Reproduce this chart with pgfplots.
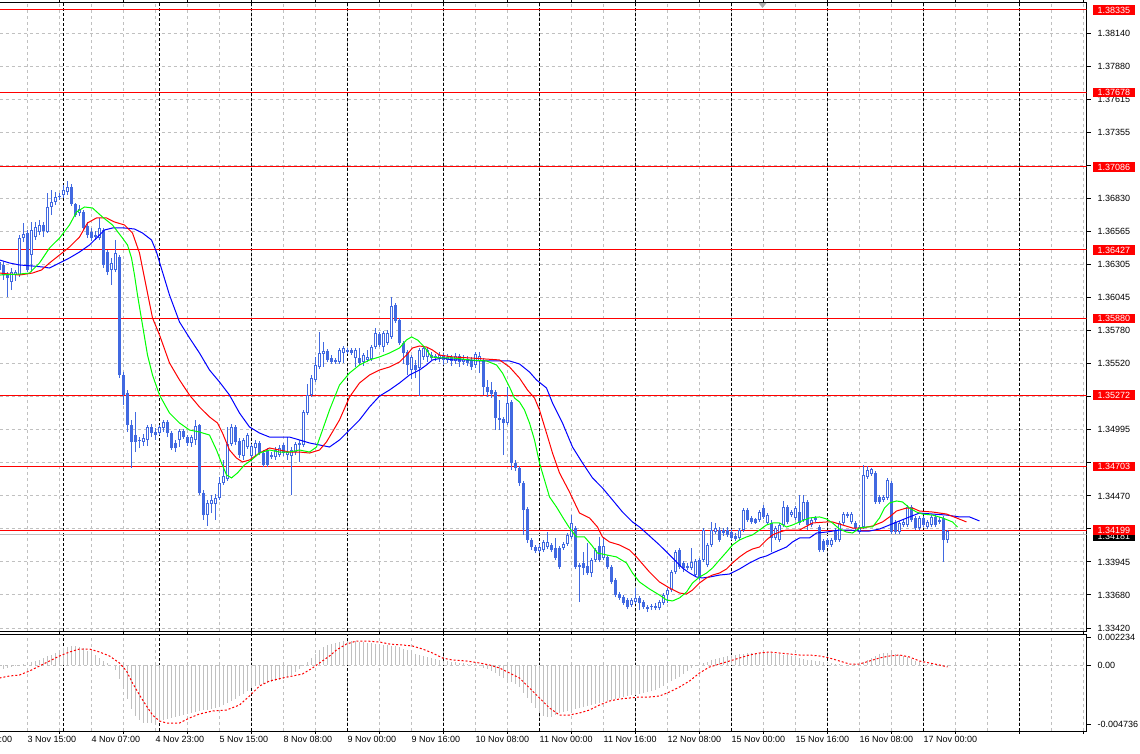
\documentclass[border=0pt]{standalone}
\usepackage{pgfplots}
\pgfplotsset{compat=1.18}
\usepackage{pgfplotstable}
\usepackage{fontspec}
\setmainfont{Liberation Sans}
\definecolor{candle}{RGB}{65,105,225}
\definecolor{silver}{RGB}{192,192,192}

\pgfplotstableread{
x o h l c
0 1.36266 1.36346 1.36242 1.36330
4 1.36306 1.36330 1.36187 1.36226
8 1.36226 1.36250 1.36051 1.36202
12 1.36171 1.36282 1.36107 1.36250
16 1.36226 1.36266 1.36179 1.36250
20 1.36226 1.36544 1.36210 1.36520
24 1.36520 1.36640 1.36489 1.36552
28 1.36560 1.36584 1.36250 1.36266
32 1.36385 1.36648 1.36250 1.36584
36 1.36528 1.36648 1.36505 1.36608
40 1.36568 1.36664 1.36544 1.36624
44 1.36624 1.36648 1.36528 1.36576
48 1.36568 1.36878 1.36560 1.36767
52 1.36767 1.36902 1.36703 1.36807
56 1.36807 1.36886 1.36783 1.36846
60 1.36846 1.36878 1.36823 1.36854
64 1.36862 1.36942 1.36838 1.36902
68 1.36886 1.36974 1.36862 1.36926
72 1.36926 1.36950 1.36775 1.36791
76 1.36791 1.36799 1.36687 1.36703
80 1.36719 1.36783 1.36695 1.36751
84 1.36727 1.36743 1.36584 1.36600
88 1.36616 1.36648 1.36520 1.36544
92 1.36568 1.36600 1.36497 1.36520
96 1.36544 1.36576 1.36505 1.36528
100 1.36520 1.36680 1.36505 1.36600
104 1.36584 1.36600 1.36282 1.36306
108 1.36409 1.36425 1.36226 1.36250
112 1.36266 1.36362 1.36147 1.36322
116 1.36266 1.36505 1.36250 1.36401
120 1.36370 1.36385 1.35407 1.35431
124 1.35431 1.35455 1.35193 1.35272
128 1.35288 1.35312 1.34978 1.35034
132 1.35034 1.35074 1.34692 1.34899
136 1.34954 1.35137 1.34819 1.34899
140 1.34915 1.34938 1.34851 1.34907
144 1.34899 1.34962 1.34867 1.34931
148 1.34915 1.35034 1.34867 1.35018
152 1.35018 1.35042 1.34938 1.34970
156 1.34978 1.35010 1.34915 1.34954
160 1.34970 1.35034 1.34954 1.35018
164 1.35010 1.35074 1.34978 1.35058
168 1.35058 1.35074 1.34938 1.34970
172 1.34970 1.34986 1.34835 1.34851
176 1.34891 1.34915 1.34819 1.34851
180 1.34915 1.35002 1.34859 1.34986
184 1.34986 1.35002 1.34923 1.34938
188 1.34938 1.34954 1.34867 1.34891
192 1.34891 1.34954 1.34859 1.34938
196 1.34915 1.35074 1.34875 1.35026
200 1.35034 1.35042 1.34477 1.34493
204 1.34493 1.34517 1.34279 1.34318
208 1.34318 1.34438 1.34231 1.34414
212 1.34406 1.34477 1.34334 1.34438
216 1.34406 1.34485 1.34279 1.34454
220 1.34454 1.34621 1.34438 1.34573
224 1.34573 1.34756 1.34557 1.34629
228 1.34605 1.35018 1.34589 1.34883
232 1.34883 1.35042 1.34867 1.35018
236 1.35018 1.35034 1.34875 1.34899
240 1.34907 1.34931 1.34771 1.34795
244 1.34787 1.34931 1.34756 1.34915
248 1.34859 1.34970 1.34843 1.34954
252 1.34787 1.34883 1.34771 1.34867
256 1.34851 1.34915 1.34779 1.34891
260 1.34891 1.34907 1.34795 1.34811
264 1.34811 1.34835 1.34700 1.34716
268 1.34835 1.34851 1.34700 1.34716
272 1.34795 1.34819 1.34763 1.34779
276 1.34779 1.34859 1.34756 1.34835
280 1.34795 1.34875 1.34779 1.34851
284 1.34875 1.34891 1.34787 1.34811
288 1.34795 1.34938 1.34756 1.34819
292 1.34787 1.34859 1.34477 1.34835
296 1.34819 1.34899 1.34795 1.34883
300 1.34875 1.34915 1.34740 1.34891
304 1.34875 1.35153 1.34859 1.35137
308 1.35129 1.35360 1.35113 1.35272
312 1.35272 1.35431 1.35256 1.35407
316 1.35392 1.35575 1.35376 1.35511
320 1.35495 1.35773 1.35479 1.35606
324 1.35598 1.35694 1.35495 1.35622
328 1.35622 1.35638 1.35535 1.35551
332 1.35567 1.35590 1.35519 1.35535
336 1.35551 1.35567 1.35519 1.35535
340 1.35535 1.35646 1.35519 1.35630
344 1.35606 1.35662 1.35527 1.35646
348 1.35630 1.35646 1.35598 1.35614
352 1.35630 1.35646 1.35590 1.35606
356 1.35567 1.35646 1.35495 1.35630
360 1.35567 1.35646 1.35511 1.35527
364 1.35535 1.35606 1.35503 1.35590
368 1.35551 1.35630 1.35535 1.35575
372 1.35559 1.35670 1.35543 1.35654
376 1.35654 1.35805 1.35638 1.35765
380 1.35757 1.35773 1.35654 1.35670
384 1.35654 1.35781 1.35614 1.35765
388 1.35686 1.35789 1.35670 1.35765
392 1.35734 1.36051 1.35718 1.35980
396 1.35988 1.36004 1.35845 1.35861
400 1.35869 1.35885 1.35670 1.35686
404 1.35686 1.35702 1.35519 1.35606
408 1.35614 1.35630 1.35431 1.35511
412 1.35471 1.35590 1.35400 1.35575
416 1.35511 1.35551 1.35407 1.35471
420 1.35487 1.35646 1.35264 1.35630
424 1.35575 1.35662 1.35551 1.35646
428 1.35575 1.35646 1.35535 1.35630
432 1.35590 1.35614 1.35551 1.35567
436 1.35582 1.35598 1.35543 1.35567
440 1.35567 1.35614 1.35535 1.35590
444 1.35590 1.35606 1.35511 1.35551
448 1.35551 1.35598 1.35527 1.35575
452 1.35575 1.35590 1.35503 1.35543
456 1.35543 1.35606 1.35519 1.35582
460 1.35582 1.35598 1.35495 1.35535
464 1.35535 1.35590 1.35511 1.35559
468 1.35559 1.35582 1.35503 1.35527
472 1.35551 1.35575 1.35471 1.35495
476 1.35511 1.35614 1.35487 1.35598
480 1.35543 1.35614 1.35447 1.35582
484 1.35551 1.35567 1.35272 1.35336
488 1.35336 1.35392 1.35256 1.35296
492 1.35312 1.35376 1.35248 1.35280
496 1.35296 1.35312 1.34994 1.35090
500 1.35090 1.35233 1.34994 1.35074
504 1.35082 1.35098 1.34795 1.35050
508 1.35050 1.35336 1.35034 1.35209
512 1.35217 1.35233 1.34676 1.34732
516 1.34732 1.34756 1.34668 1.34692
520 1.34692 1.34708 1.34549 1.34573
524 1.34573 1.34589 1.34159 1.34358
528 1.34366 1.34382 1.34096 1.34120
532 1.34120 1.34136 1.34040 1.34064
536 1.34064 1.34080 1.34016 1.34032
540 1.34032 1.34088 1.34016 1.34064
544 1.34040 1.34120 1.34024 1.34104
548 1.34064 1.34183 1.34048 1.34104
552 1.34080 1.34096 1.34024 1.34040
556 1.34056 1.34136 1.33961 1.33977
560 1.34056 1.34072 1.33889 1.33905
564 1.34056 1.34104 1.34040 1.34088
568 1.34088 1.34175 1.34072 1.34160
572 1.34143 1.34318 1.34128 1.34255
576 1.34215 1.34231 1.33889 1.33905
580 1.33921 1.33937 1.33627 1.33905
584 1.33937 1.34024 1.33841 1.33897
588 1.33913 1.34096 1.33841 1.33857
592 1.33857 1.33977 1.33825 1.33961
596 1.33961 1.34056 1.33945 1.34040
600 1.34072 1.34144 1.33945 1.33961
604 1.33977 1.34144 1.33961 1.34072
608 1.33985 1.34001 1.33889 1.33905
612 1.33905 1.33921 1.33770 1.33786
616 1.33802 1.33818 1.33666 1.33682
620 1.33690 1.33706 1.33643 1.33659
624 1.33666 1.33682 1.33603 1.33619
628 1.33643 1.33659 1.33571 1.33587
632 1.33603 1.33659 1.33587 1.33643
636 1.33627 1.33738 1.33611 1.33659
640 1.33659 1.33674 1.33563 1.33619
644 1.33627 1.33643 1.33571 1.33587
648 1.33587 1.33603 1.33547 1.33571
652 1.33587 1.33611 1.33563 1.33595
656 1.33595 1.33619 1.33563 1.33579
660 1.33579 1.33643 1.33563 1.33627
664 1.33619 1.33698 1.33603 1.33682
668 1.33682 1.33738 1.33619 1.33722
672 1.33722 1.33881 1.33706 1.33865
676 1.33865 1.34040 1.33849 1.34024
680 1.34040 1.34056 1.33889 1.33905
684 1.33937 1.33953 1.33865 1.33897
688 1.33913 1.33937 1.33881 1.33897
692 1.33897 1.34056 1.33881 1.33945
696 1.33841 1.33969 1.33825 1.33953
700 1.33961 1.33977 1.33802 1.33818
704 1.33961 1.34215 1.33945 1.34199
708 1.33921 1.34096 1.33905 1.34080
712 1.34080 1.34263 1.34064 1.34199
716 1.34183 1.34255 1.34167 1.34215
720 1.34199 1.34223 1.34104 1.34120
724 1.34199 1.34215 1.34152 1.34175
728 1.34199 1.34223 1.34144 1.34160
732 1.34183 1.34207 1.34120 1.34136
736 1.34152 1.34175 1.34112 1.34128
740 1.34136 1.34215 1.34120 1.34199
744 1.34199 1.34374 1.34183 1.34358
748 1.34358 1.34374 1.34263 1.34279
752 1.34295 1.34311 1.34247 1.34263
756 1.34287 1.34295 1.34247 1.34255
760 1.34279 1.34358 1.34263 1.34342
764 1.34374 1.34398 1.34287 1.34303
768 1.34255 1.34334 1.34239 1.34318
772 1.34255 1.34279 1.34024 1.34136
776 1.34136 1.34231 1.34120 1.34215
780 1.34120 1.34255 1.34104 1.34239
784 1.34239 1.34430 1.34223 1.34382
788 1.34382 1.34398 1.34247 1.34263
792 1.34318 1.34358 1.34303 1.34342
796 1.34295 1.34390 1.34279 1.34374
800 1.34342 1.34477 1.34239 1.34255
804 1.34279 1.34477 1.34263 1.34422
808 1.34422 1.34438 1.34199 1.34239
812 1.34239 1.34295 1.34223 1.34279
816 1.34295 1.34311 1.34263 1.34279
820 1.34223 1.34239 1.34024 1.34040
824 1.34112 1.34128 1.34024 1.34040
828 1.34120 1.34136 1.34064 1.34080
832 1.34080 1.34136 1.34064 1.34120
836 1.34199 1.34215 1.34104 1.34120
840 1.34120 1.34271 1.34104 1.34255
844 1.34255 1.34342 1.34239 1.34326
848 1.34326 1.34342 1.34295 1.34311
852 1.34263 1.34342 1.34247 1.34326
856 1.34255 1.34271 1.34199 1.34215
860 1.34183 1.34239 1.34167 1.34223
864 1.34223 1.34716 1.34207 1.34637
868 1.34621 1.34708 1.34605 1.34676
872 1.34645 1.34692 1.34629 1.34684
876 1.34653 1.34669 1.34406 1.34422
880 1.34462 1.34477 1.34406 1.34422
884 1.34438 1.34477 1.34422 1.34462
888 1.34454 1.34613 1.34438 1.34597
892 1.34573 1.34589 1.34167 1.34183
896 1.34263 1.34279 1.34167 1.34183
900 1.34183 1.34271 1.34167 1.34255
904 1.34239 1.34279 1.34223 1.34263
908 1.34239 1.34398 1.34223 1.34382
912 1.34382 1.34398 1.34263 1.34279
916 1.34295 1.34311 1.34199 1.34215
920 1.34215 1.34311 1.34199 1.34295
924 1.34295 1.34311 1.34223 1.34239
928 1.34223 1.34279 1.34207 1.34263
932 1.34239 1.34318 1.34223 1.34303
936 1.34303 1.34318 1.34223 1.34239
940 1.34279 1.34303 1.34247 1.34263
944 1.34295 1.34311 1.33945 1.34120
948 1.34120 1.34199 1.34096 1.34191
}\candles

\pgfplotstableread{
x v
0 -0.00024
4 -0.00032
8 -0.00024
12 -0.00016
16 -0.00008
20 0
24 0.00008
28 0.00016
32 0.00024
36 0.00032
40 0.0004
44 0.00056
48 0.00072
52 0.0008
56 0.00096
60 0.0012
64 0.00136
68 0.00144
72 0.00152
76 0.00152
80 0.00144
84 0.00136
88 0.00112
92 0.00096
96 0.0008
100 0.00056
104 0.00032
108 0.00016
112 0
116 -0.0004
120 -0.00112
124 -0.00192
128 -0.00272
132 -0.00352
136 -0.00408
140 -0.0044
144 -0.00464
148 -0.00464
152 -0.00464
156 -0.00456
160 -0.00448
164 -0.0044
168 -0.00432
172 -0.00424
176 -0.00416
180 -0.00408
184 -0.004
188 -0.00392
192 -0.00384
196 -0.00376
200 -0.00368
204 -0.0036
208 -0.0036
212 -0.00352
216 -0.00344
220 -0.00336
224 -0.0032
228 -0.00304
232 -0.00288
236 -0.00272
240 -0.00248
244 -0.00232
248 -0.00208
252 -0.00184
256 -0.00168
260 -0.0016
264 -0.00152
268 -0.00144
272 -0.00136
276 -0.00128
280 -0.0012
284 -0.00112
288 -0.00096
292 -0.0008
296 -0.00056
300 -0.00032
304 -0.00008
308 0.00024
312 0.00056
316 0.00088
320 0.0012
324 0.00144
328 0.0016
332 0.00168
336 0.00176
340 0.00184
344 0.00192
348 0.00192
352 0.00192
356 0.00192
360 0.00184
364 0.00184
368 0.00176
372 0.00176
376 0.00168
380 0.00168
384 0.0016
388 0.0016
392 0.00152
396 0.00152
400 0.00144
404 0.00128
408 0.0012
412 0.00104
416 0.00088
420 0.0008
424 0.00072
428 0.00064
432 0.00056
436 0.00048
440 0.0004
444 0.00032
448 0.00032
452 0.00024
456 0.00024
460 0.00016
464 0.00016
468 0.00008
472 0.00008
476 0
480 -0.00008
484 -0.00024
488 -0.00032
492 -0.00048
496 -0.00064
500 -0.00088
504 -0.00104
508 -0.0012
512 -0.00136
516 -0.00152
520 -0.00176
524 -0.00224
528 -0.00264
532 -0.00304
536 -0.00344
540 -0.00384
544 -0.00408
548 -0.00416
552 -0.00416
556 -0.004
560 -0.00384
564 -0.00376
568 -0.00368
572 -0.0036
576 -0.00352
580 -0.00344
584 -0.00336
588 -0.00328
592 -0.0032
596 -0.00312
600 -0.00304
604 -0.00296
608 -0.00288
612 -0.0028
616 -0.00272
620 -0.00264
624 -0.00256
628 -0.00248
632 -0.0024
636 -0.0024
640 -0.00232
644 -0.00224
648 -0.00216
652 -0.00208
656 -0.002
660 -0.00184
664 -0.00168
668 -0.00144
672 -0.00128
676 -0.00112
680 -0.00096
684 -0.00072
688 -0.00048
692 -0.00024
696 -0.00008
700 0.00008
704 0.00016
708 0.00024
712 0.0004
716 0.00048
720 0.00056
724 0.00064
728 0.00072
732 0.0008
736 0.0008
740 0.00088
744 0.00088
748 0.00096
752 0.00096
756 0.00096
760 0.00096
764 0.00096
768 0.00096
772 0.00096
776 0.00088
780 0.00088
784 0.0008
788 0.0008
792 0.00072
796 0.00064
800 0.00056
804 0.00048
808 0.0004
812 0.0004
816 0.00032
820 0.00032
824 0.00024
828 0.00016
832 0.00016
836 0.00008
840 0.00008
844 0
848 0
852 0
856 0.00008
860 0.00008
864 0.00024
868 0.0004
872 0.00056
876 0.00072
880 0.00088
884 0.00096
888 0.00096
892 0.00096
896 0.00088
900 0.0008
904 0.00072
908 0.00064
912 0.00048
916 0.00032
920 0.00024
924 0.00016
928 0.00008
932 0.00008
936 0
940 -0.00008
944 -0.00008
948 -0.00016
}\macdhist

\pgfplotsset{
  mtcommon/.style={
    scale only axis, width=1087pt, xmin=0, xmax=1087,
    clip mode=individual,
    scaled y ticks=false, scaled x ticks=false,
    axis line style={black, line width=1pt},
    grid=both,
    major grid style={silver, line width=1pt, dash pattern=on 3pt off 3pt},
    minor grid style={silver, line width=1pt, dash pattern=on 3pt off 3pt},
    xtick={28,92,...,1052},
    minor xtick={60,124,...,1084},
    xmajorticks=false, xminorticks=false,
    xticklabels={},
    extra x ticks={64,160,252,348,444,540,636,732,828,924,1020},
    extra x tick labels={},
    extra x tick style={grid=major, xmajorticks=false,
      major grid style={black, line width=1pt, dash pattern=on 3pt off 2pt}},
    ytick pos=right, yticklabel pos=right,
    tick align=outside, major tick length=4pt,
    tick style={black, line width=1pt},
    tick label style={font=\fontsize{9}{10}\selectfont, text=black},
    yticklabel style={anchor=west, inner sep=0pt, xshift=7pt},
  },
}
\tikzset{
  lbl/.style={anchor=west, xshift=6pt, fill=red, text=white,
    font=\fontsize{9}{10}\selectfont, inner xsep=5pt, inner ysep=1.5pt,
    text height=6.5pt, text depth=0pt},
  xl/.style={anchor=north west, inner sep=0pt, yshift=-5pt,
    font=\fontsize{9}{10}\selectfont, text=black},
}

\begin{document}
\begin{tikzpicture}
\begin{axis}[mtcommon, name=main, at={(0pt,0pt)}, anchor=north west,
  height=628pt, ymin=1.3339615, ymax=1.3838875,
  ytick={1.3342,1.336825,1.33945,1.342075,1.3447,1.347325,1.34995,1.352575,1.3552,1.357825,1.36045,1.363075,1.3657,1.368325,1.37095,1.373575,1.3762,1.378825,1.38145},
  yticklabels={1.33420,1.33680,1.33945,{},1.34470,{},1.34995,{},1.35520,1.35780,1.36045,1.36305,1.36565,1.36830,{},1.37355,1.37615,1.37880,1.38140},
]
% price levels
\addplot[red, line width=1pt] coordinates {(0,1.38335) (1087,1.38335)};
\addplot[red, line width=1pt] coordinates {(0,1.37678) (1087,1.37678)};
\addplot[red, line width=1pt] coordinates {(0,1.37086) (1087,1.37086)};
\addplot[red, line width=1pt] coordinates {(0,1.36427) (1087,1.36427)};
\addplot[red, line width=1pt] coordinates {(0,1.35880) (1087,1.35880)};
\addplot[red, line width=1pt] coordinates {(0,1.35272) (1087,1.35272)};
\addplot[red, line width=1pt] coordinates {(0,1.34703) (1087,1.34703)};
\addplot[silver, line width=1pt] coordinates {(0,1.34163) (1087,1.34163)};
\addplot[red, line width=1pt] coordinates {(0,1.34199) (1087,1.34199)};
% candles: wicks
\addplot[draw=none, error bars/.cd, y dir=plus, y explicit, error mark=none,
  error bar style={draw=candle, line width=1pt, solid}]
  table[x=x, y=l, y error plus expr={\thisrow{h}-\thisrow{l}}] {\candles};
% bodies
\addplot[draw=none, error bars/.cd, y dir=plus, y explicit, error mark=none,
  error bar style={draw=candle, line width=3pt, solid}]
  table[x=x, y expr={min(\thisrow{o},\thisrow{c})}, y error plus expr={abs(\thisrow{c}-\thisrow{o})}] {\candles};
% hollow interiors of rising candles
\addplot[draw=none, error bars/.cd, y dir=plus, y explicit, error mark=none,
  error bar style={draw=white, line width=1pt, solid}]
  table[x=x, y expr={\thisrow{o}+0.00008}, y error plus expr={max(\thisrow{c}-\thisrow{o}-0.00016,0)}] {\candles};
% moving averages
\addplot[blue, line width=1pt] coordinates {(0,1.36346)(10,1.36322)(20,1.36306)(33,1.36298)(43,1.36290)(50,1.36282)(60,1.36322)(70,1.36362)(80,1.36409)(90,1.36465)(97,1.36520)(105,1.36584)(113,1.36600)(125,1.36600)(135,1.36592)(143,1.36560)(152,1.36505)(157,1.36409)(163,1.36250)(170,1.36067)(180,1.35853)(190,1.35726)(200,1.35606)(210,1.35471)(220,1.35376)(230,1.35272)(240,1.35129)(250,1.35018)(260,1.34970)(270,1.34938)(280,1.34938)(290,1.34938)(300,1.34915)(310,1.34891)(320,1.34875)(330,1.34859)(340,1.34915)(350,1.34994)(360,1.35074)(370,1.35177)(380,1.35264)(390,1.35312)(400,1.35368)(410,1.35431)(420,1.35471)(427,1.35511)(433,1.35551)(443,1.35567)(453,1.35551)(467,1.35551)(480,1.35543)(510,1.35543)(520,1.35519)(530,1.35455)(537,1.35392)(547,1.35328)(553,1.35209)(563,1.35050)(573,1.34859)(583,1.34732)(593,1.34613)(603,1.34533)(613,1.34438)(623,1.34342)(633,1.34263)(640,1.34223)(650,1.34152)(660,1.34080)(670,1.34001)(677,1.33945)(683,1.33897)(690,1.33857)(697,1.33825)(703,1.33818)(710,1.33825)(720,1.33841)(730,1.33849)(740,1.33889)(750,1.33937)(760,1.33977)(767,1.33993)(773,1.34016)(780,1.34040)(787,1.34064)(793,1.34104)(800,1.34136)(810,1.34136)(817,1.34175)(827,1.34183)(840,1.34199)(850,1.34199)(860,1.34191)(870,1.34191)(880,1.34207)(890,1.34239)(900,1.34271)(910,1.34303)(920,1.34334)(933,1.34326)(947,1.34318)(960,1.34303)(970,1.34303)(980,1.34271)};
\addplot[red, line width=1pt] coordinates {(0,1.36242)(20,1.36226)(33,1.36242)(42,1.36266)(50,1.36322)(60,1.36385)(70,1.36449)(80,1.36528)(88,1.36640)(97,1.36680)(107,1.36680)(115,1.36648)(125,1.36624)(133,1.36560)(140,1.36401)(147,1.36123)(153,1.35885)(160,1.35750)(170,1.35527)(180,1.35392)(190,1.35272)(200,1.35177)(210,1.35098)(218,1.35050)(223,1.34970)(230,1.34835)(237,1.34771)(243,1.34740)(250,1.34756)(260,1.34811)(270,1.34851)(280,1.34835)(290,1.34819)(300,1.34819)(310,1.34811)(320,1.34835)(327,1.34899)(340,1.35074)(350,1.35256)(360,1.35368)(370,1.35431)(380,1.35471)(390,1.35495)(400,1.35535)(407,1.35590)(413,1.35646)(420,1.35662)(427,1.35654)(433,1.35630)(440,1.35590)(453,1.35575)(470,1.35567)(500,1.35551)(510,1.35495)(520,1.35407)(528,1.35312)(535,1.35248)(540,1.35153)(547,1.34970)(553,1.34811)(560,1.34653)(570,1.34501)(580,1.34334)(590,1.34295)(598,1.34223)(603,1.34144)(610,1.34104)(620,1.34080)(630,1.34040)(637,1.33985)(643,1.33929)(650,1.33865)(660,1.33786)(670,1.33738)(680,1.33698)(687,1.33690)(693,1.33722)(700,1.33778)(707,1.33818)(713,1.33841)(720,1.33857)(727,1.33889)(733,1.33937)(740,1.33985)(747,1.34024)(753,1.34048)(760,1.34064)(767,1.34120)(773,1.34160)(780,1.34183)(787,1.34199)(793,1.34199)(800,1.34199)(813,1.34255)(827,1.34263)(833,1.34263)(843,1.34239)(853,1.34215)(863,1.34215)(873,1.34231)(883,1.34263)(890,1.34303)(897,1.34350)(907,1.34374)(913,1.34374)(920,1.34350)(933,1.34342)(947,1.34326)(957,1.34295)(967,1.34263)};
\addplot[green, line width=1pt] coordinates {(0,1.36226)(20,1.36234)(30,1.36242)(40,1.36322)(50,1.36441)(60,1.36520)(70,1.36624)(77,1.36727)(85,1.36767)(93,1.36759)(103,1.36687)(113,1.36624)(123,1.36520)(128,1.36465)(132,1.36362)(135,1.36226)(138,1.36067)(143,1.35829)(148,1.35590)(153,1.35431)(160,1.35272)(170,1.35129)(180,1.35050)(190,1.34994)(200,1.34978)(210,1.34954)(217,1.34835)(222,1.34732)(227,1.34637)(232,1.34613)(238,1.34653)(245,1.34716)(252,1.34756)(260,1.34811)(270,1.34835)(280,1.34819)(290,1.34819)(300,1.34835)(310,1.34819)(317,1.34859)(323,1.34994)(330,1.35153)(340,1.35352)(350,1.35447)(360,1.35511)(370,1.35551)(380,1.35575)(390,1.35606)(400,1.35646)(407,1.35710)(412,1.35734)(418,1.35710)(425,1.35654)(432,1.35575)(440,1.35567)(453,1.35567)(470,1.35551)(487,1.35543)(497,1.35511)(503,1.35447)(510,1.35336)(515,1.35248)(520,1.35217)(525,1.35153)(530,1.35050)(535,1.34915)(540,1.34732)(545,1.34597)(550,1.34462)(557,1.34382)(563,1.34303)(570,1.34215)(577,1.34144)(585,1.34144)(592,1.34080)(598,1.34016)(607,1.34001)(617,1.33985)(627,1.33937)(633,1.33857)(640,1.33786)(650,1.33730)(660,1.33682)(667,1.33643)(673,1.33635)(680,1.33659)(687,1.33706)(693,1.33778)(700,1.33825)(707,1.33857)(713,1.33897)(720,1.33961)(727,1.34024)(733,1.34080)(740,1.34120)(747,1.34144)(753,1.34160)(760,1.34199)(767,1.34239)(773,1.34255)(780,1.34255)(787,1.34223)(793,1.34239)(800,1.34263)(810,1.34295)(820,1.34303)(827,1.34287)(833,1.34255)(840,1.34207)(847,1.34183)(853,1.34175)(860,1.34215)(867,1.34223)(873,1.34223)(880,1.34295)(885,1.34374)(890,1.34414)(897,1.34430)(903,1.34422)(910,1.34374)(917,1.34342)(923,1.34326)(933,1.34318)(943,1.34295)(953,1.34263)(958,1.34223)};
% price labels
\node[lbl] at (axis cs:1087,1.38335) {1.38335};
\node[lbl] at (axis cs:1087,1.37678) {1.37678};
\node[lbl] at (axis cs:1087,1.37086) {1.37086};
\node[lbl] at (axis cs:1087,1.36427) {1.36427};
\node[lbl] at (axis cs:1087,1.35880) {1.35880};
\node[lbl] at (axis cs:1087,1.35272) {1.35272};
\node[lbl] at (axis cs:1087,1.34703) {1.34703};
\node[lbl, fill=black, yshift=-2pt] at (axis cs:1087,1.34163) {1.34181};
\node[lbl] at (axis cs:1087,1.34199) {1.34199};
% shift marker
\fill[silver!70!gray] ([xshift=-4pt]axis cs:763,1.3838875) -- ([xshift=4pt]axis cs:763,1.3838875) -- ([yshift=-5pt]axis cs:763,1.3838875) -- cycle;
\end{axis}

\begin{axis}[mtcommon, name=macd, at={(0pt,-631pt)}, anchor=north west,
  height=97pt, ymin=-0.00528, ymax=0.00248,
  ytick={0}, yticklabels={0.00},
  extra y ticks={-0.004736,0.002234},
  extra y tick labels={-0.004736,0.002234},
  extra y tick style={grid=none},
]
\addplot[ycomb, draw=silver, line width=1pt] table[x=x, y=v] {\macdhist};
\addplot[red, line width=1pt, dash pattern=on 2pt off 2pt] coordinates {(0,-0.00104)(10,-0.00088)(20,-0.0008)(30,-0.00048)(40,-0.00008)(50,0.00032)(60,0.00072)(70,0.00104)(80,0.00128)(90,0.00128)(100,0.00104)(110,0.00072)(120,0.00016)(127,-0.00048)(133,-0.00144)(140,-0.0024)(147,-0.00328)(153,-0.004)(160,-0.00448)(167,-0.00464)(180,-0.00464)(190,-0.00424)(200,-0.00392)(213,-0.00368)(227,-0.0036)(240,-0.0032)(250,-0.00248)(260,-0.00168)(270,-0.00128)(283,-0.00104)(293,-0.00088)(303,-0.00072)(313,-0.00024)(320,0.00016)(330,0.00072)(337,0.0012)(347,0.00168)(357,0.00192)(367,0.00192)(380,0.00184)(390,0.00168)(403,0.0016)(413,0.00152)(423,0.00128)(433,0.00096)(443,0.00056)(453,0.0004)(467,0.00032)(480,0.00016)(490,0)(500,-0.00024)(510,-0.00064)(520,-0.00104)(530,-0.00184)(540,-0.00264)(550,-0.00344)(560,-0.004)(570,-0.004)(580,-0.00384)(590,-0.0036)(600,-0.0032)(610,-0.00288)(620,-0.00272)(630,-0.00264)(640,-0.00256)(650,-0.00256)(660,-0.00248)(670,-0.00216)(680,-0.00176)(690,-0.00128)(700,-0.00064)(710,-0.00016)(720,0.00008)(730,0.00032)(740,0.00056)(750,0.0008)(760,0.00096)(770,0.00104)(780,0.00096)(790,0.00088)(800,0.0008)(810,0.0008)(820,0.00072)(830,0.00056)(840,0.00032)(850,0.00008)(860,0.00008)(870,0.00032)(880,0.00056)(890,0.00072)(900,0.0008)(910,0.00064)(920,0.00032)(930,0.00016)(940,0)(948,-0.00016)};
% time labels
\node[xl] at (axis cs:-36,-0.00528) {3 Nov 08:00};
\node[xl] at (axis cs:28,-0.00528) {3 Nov 15:00};
\node[xl] at (axis cs:92,-0.00528) {4 Nov 07:00};
\node[xl] at (axis cs:156,-0.00528) {4 Nov 23:00};
\node[xl] at (axis cs:220,-0.00528) {5 Nov 15:00};
\node[xl] at (axis cs:284,-0.00528) {8 Nov 08:00};
\node[xl] at (axis cs:348,-0.00528) {9 Nov 00:00};
\node[xl] at (axis cs:412,-0.00528) {9 Nov 16:00};
\node[xl] at (axis cs:476,-0.00528) {10 Nov 08:00};
\node[xl] at (axis cs:540,-0.00528) {11 Nov 00:00};
\node[xl] at (axis cs:604,-0.00528) {11 Nov 16:00};
\node[xl] at (axis cs:668,-0.00528) {12 Nov 08:00};
\node[xl] at (axis cs:732,-0.00528) {15 Nov 00:00};
\node[xl] at (axis cs:796,-0.00528) {15 Nov 16:00};
\node[xl] at (axis cs:860,-0.00528) {16 Nov 08:00};
\node[xl] at (axis cs:924,-0.00528) {17 Nov 00:00};
\end{axis}
\pgfresetboundingbox
\useasboundingbox (0.5pt,3pt) rectangle (1140.5pt,-751pt);
\end{tikzpicture}
\end{document}
